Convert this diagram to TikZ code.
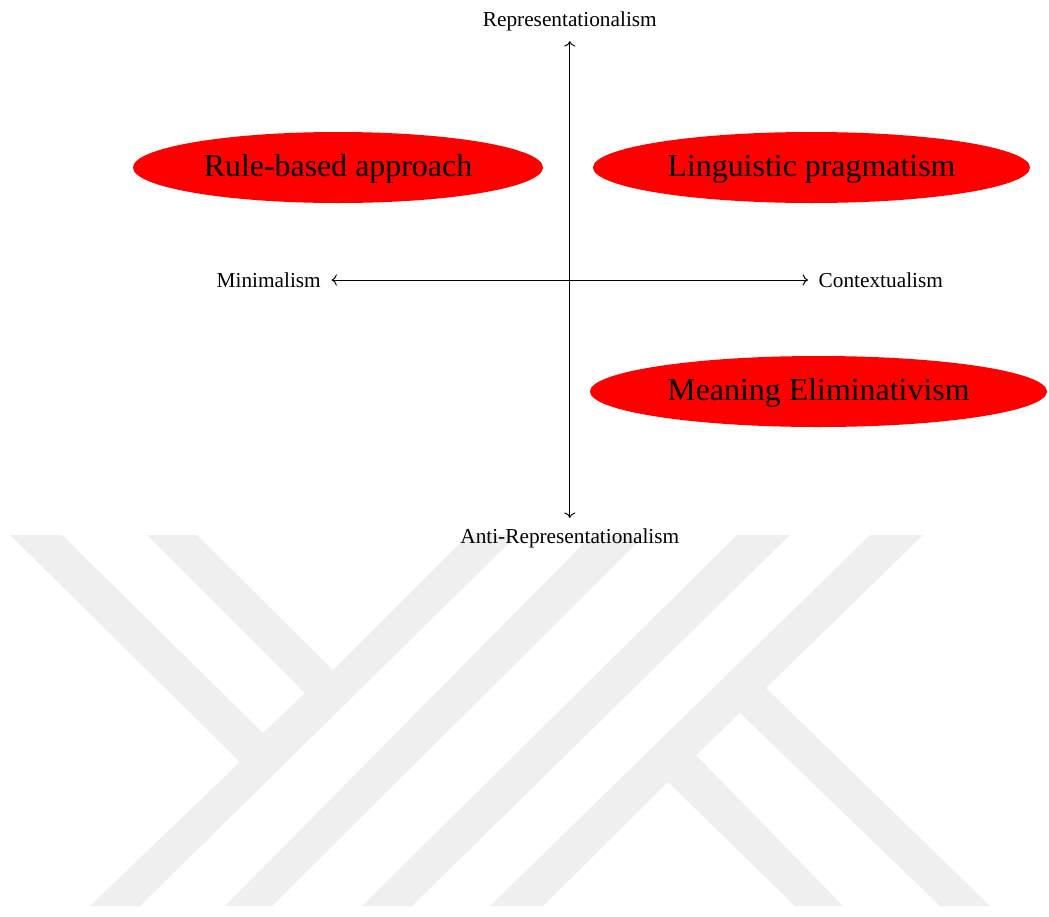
\documentclass[tikz,border=0pt]{standalone}
\usepackage{fontspec}
\setmainfont{Liberation Serif}
\usetikzlibrary{shapes.geometric,arrows.meta}
\definecolor{wm}{HTML}{EFEFEF}
\tikzset{
  wmark/.style={fill=wm,draw=none},
  blob/.style={ellipse,fill=red,draw=none,inner sep=0pt,minimum height=71pt,text height=24pt,text depth=6pt,font=\fontsize{31.9}{36}\selectfont},
  vlabel/.style={inner xsep=0pt,inner ysep=10.5pt,text height=14.5pt,text depth=4.5pt,font=\fontsize{21.3}{25}\selectfont},
  hlabel/.style={inner ysep=0pt,inner xsep=10.5pt,text height=14pt,text depth=0pt,font=\fontsize{21.3}{25}\selectfont},
  axisline/.style={{To[scale=1.45]}-{To[scale=1.45]},line width=0.95pt,black}
}
\begin{document}
\begin{tikzpicture}[x=1pt,y=-1pt]
\useasboundingbox (0,0) rectangle (1049,916);
\fill[white] (0,0) rectangle (1049,916);
% watermark
\fill[wmark] (10,535) -- (62,535) -- (263,733) -- (305,693) -- (147,535) -- (197,535) -- (333,670) -- (468,535) -- (517,535) -- (140,906) -- (90,906) -- (240,762) -- cycle;
\fill[wmark] (225,906) -- (272,906) -- (645,535) -- (592,535) -- cycle;
\fill[wmark] (362,906) -- (412,906) -- (790,535) -- (737,535) -- cycle;
\fill[wmark] (870,535) -- (923,535) -- (766,688) -- (990,906) -- (940,906) -- (740,713) -- (696,755) -- (843,906) -- (795,906) -- (668,782) -- (543,906) -- (490,906) -- cycle;
% ellipses
\node[blob,minimum width=410pt] (rule) at (338,167.5) {Rule-based approach};
\node[blob,minimum width=437pt] (ling) at (811.5,167.5) {Linguistic pragmatism};
\node[blob,minimum width=457pt] (mean) at (818.5,391.5) {Meaning Eliminativism};
% axis labels
\node[vlabel,anchor=base] (rep) at (569.8,26) {Representationalism};
\node[vlabel,anchor=base] (anti) at (569.8,543) {Anti-Representationalism};
\node[hlabel,anchor=base east] (mini) at (331.5,287) {Minimalism};
\node[hlabel,anchor=base west] (ctx) at (808,287) {Contextualism};
\draw[axisline] (rep.south) -- (anti.north);
\draw[axisline] (mini.east) -- (ctx.west);
\end{tikzpicture}
\end{document}
